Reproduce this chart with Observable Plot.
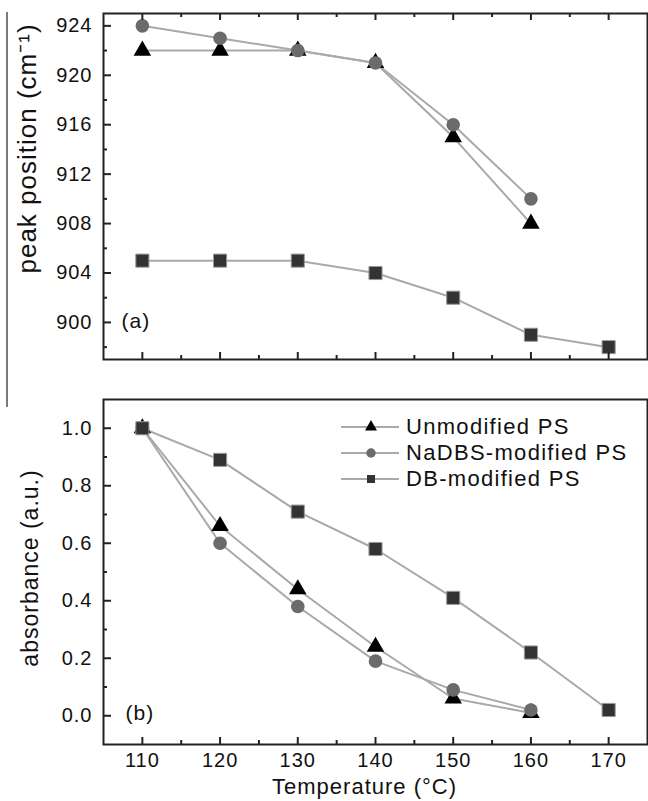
<!DOCTYPE html>
<html>
<head>
<meta charset="utf-8">
<script src="https://cdn.jsdelivr.net/npm/d3@7"></script>
<script src="https://cdn.jsdelivr.net/npm/@observablehq/plot@0.6"></script>
<style>
  html, body { margin: 0; padding: 0; background: #fff; }
  #wrap { position: relative; width: 648px; height: 801px; overflow: hidden;
          font-family: "Liberation Sans", Arial, sans-serif; color: #111; }
  #top { position: absolute; left: 0; top: 0; }
  #bot { position: absolute; left: 0; top: 380px; }
  #wrap svg text { letter-spacing: 1px; }
  #vline { position: absolute; left: 6px; top: 12px; width: 2px; height: 395px; background: #7a7a7a; }
  #legend { position: absolute; left: 340px; top: 414px; }
  .lrow { display: flex; align-items: center; height: 26px; }
  .lrow span { font-size: 22px; letter-spacing: 1.3px; margin-left: 6px; line-height: 26px; }
</style>
</head>
<body>
<div id="wrap">
  <div id="vline"></div>
  <div id="top"></div>
  <div id="bot"></div>
  <div id="legend"></div>
</div>
<script>
// ---- data ----
const temps = [110, 120, 130, 140, 150, 160, 170];
const seriesNames = ["Unmodified PS", "NaDBS-modified PS", "DB-modified PS"];

const peakUnmod = [922, 922, 922, 921, 915, 908];
const peakNaDBS = [924, 923, 922, 921, 916, 910];
const peakDB    = [905, 905, 905, 904, 902, 899, 898];

const absUnmod = [1.00, 0.66, 0.44, 0.24, 0.06, 0.01];
const absNaDBS = [1.00, 0.60, 0.38, 0.19, 0.09, 0.02];
const absDB    = [1.00, 0.89, 0.71, 0.58, 0.41, 0.22, 0.02];

const xMajor = [110, 120, 130, 140, 150, 160, 170];
const xMinor = [115, 125, 135, 145, 155, 165];
const peakMajor = [900, 904, 908, 912, 916, 920, 924];
const peakMinor = [898, 902, 906, 910, 914, 918, 922];
const absMajor = [0.0, 0.2, 0.4, 0.6, 0.8, 1.0];
const absMinor = [0.1, 0.3, 0.5, 0.7, 0.9];

// ---- helpers ----
const pts = arr => arr.map((v, i) => ({t: temps[i], v}));
const FONT = '"Liberation Sans", Arial, sans-serif';
const LINE = "#a9a9a9";
const W = 648, ML = 103, MR = 1;
const innerW = W - ML - MR;

const styleSeries = [
  {symbol: "triangle", fill: "#000", stroke: "none", r: 6.5},
  {symbol: "circle", fill: "#6b6b6b", stroke: "none", r: 6.8},
  {symbol: "square", fill: "#333", stroke: "#9a9a9a", r: 7.4}
];

function seriesMarks(arrs) {
  const marks = [];
  arrs.forEach(a => marks.push(Plot.line(pts(a), {x: "t", y: "v", stroke: LINE, strokeWidth: 2})));
  arrs.forEach((a, k) => {
    const s = styleSeries[k];
    marks.push(Plot.dot(pts(a), {x: "t", y: "v", symbol: s.symbol, fill: s.fill, stroke: s.stroke, strokeWidth: 1, r: s.r}));
  });
  return marks;
}

function ticks(innerH, yMaj, yMin, withTop) {
  const st = {stroke: "#222", strokeWidth: 2};
  const m = [
    Plot.tickX(xMajor, {x: d => d, insetTop: innerH - 7, ...st}),
    Plot.tickX(xMinor, {x: d => d, insetTop: innerH - 4, ...st}),
    Plot.tickY(yMaj, {y: d => d, insetRight: innerW - 8, ...st}),
    Plot.tickY(yMin, {y: d => d, insetRight: innerW - 4, ...st})
  ];
  if (withTop) {
    m.push(Plot.tickX(xMajor, {x: d => d, insetBottom: innerH - 7, ...st}));
    m.push(Plot.tickX(xMinor, {x: d => d, insetBottom: innerH - 4, ...st}));
  }
  return m;
}

// ---- top panel ----
const topH = 380, topMT = 13, topMB = 21;
const topPlot = Plot.plot({
  width: W, height: topH,
  marginLeft: ML, marginRight: MR, marginTop: topMT, marginBottom: topMB,
  style: {fontFamily: FONT, fontSize: "20px", color: "#111", background: "transparent", overflow: "visible"},
  x: {domain: [105, 175], axis: null},
  y: {domain: [897, 925], axis: null},
  marks: [
    ...seriesMarks([peakUnmod, peakNaDBS, peakDB]),
    ...ticks(topH - topMT - topMB, peakMajor, peakMinor, true),
    Plot.axisY(peakMajor, {anchor: "left", tickSize: 0, tickPadding: 11, label: null, fontSize: 20, tickFormat: d => String(d)}),
    Plot.frame({stroke: "#222", strokeWidth: 2}),
    Plot.text(["(a)"], {frameAnchor: "bottom-left", dx: 18, dy: -32, textAnchor: "start", fontSize: 21}),
    Plot.text(["peak position (cm⁻¹)"], {frameAnchor: "left", dx: -76, dy: -38, rotate: -90, fontSize: 26, textAnchor: "middle"})
  ]
});
document.getElementById("top").appendChild(topPlot);

// ---- bottom panel ----
const botH = 421, botMT = 19, botMB = 57;
const botPlot = Plot.plot({
  width: W, height: botH,
  marginLeft: ML, marginRight: MR, marginTop: botMT, marginBottom: botMB,
  style: {fontFamily: FONT, fontSize: "20px", color: "#111", background: "transparent", overflow: "visible"},
  x: {domain: [105, 175], axis: null},
  y: {domain: [-0.1, 1.1], axis: null},
  marks: [
    ...seriesMarks([absUnmod, absNaDBS, absDB]),
    ...ticks(botH - botMT - botMB, absMajor, absMinor, false),
    Plot.axisY(absMajor, {anchor: "left", tickSize: 0, tickPadding: 11, label: null, fontSize: 20, tickFormat: d => d.toFixed(1)}),
    Plot.axisX(xMajor, {anchor: "bottom", tickSize: 0, tickPadding: 8, label: null, fontSize: 20, tickFormat: d => String(d)}),
    Plot.frame({stroke: "#222", strokeWidth: 2}),
    Plot.text(["(b)"], {frameAnchor: "bottom-left", dx: 22, dy: -25, textAnchor: "start", fontSize: 21}),
    Plot.text(["absorbance (a.u.)"], {frameAnchor: "left", dx: -73, dy: -4, rotate: -90, fontSize: 23, textAnchor: "middle"}),
    Plot.text(["Temperature (°C)"], {frameAnchor: "bottom", dx: -11, dy: 49, fontSize: 22, letterSpacing: 1.5, textAnchor: "middle"})
  ]
});
document.getElementById("bot").appendChild(botPlot);

// ---- legend ----
const legend = d3.select("#legend");
const legSym = [
  {type: d3.symbolTriangle, size: 62, fill: "#000"},
  {type: d3.symbolCircle, size: 70, fill: "#6b6b6b"},
  {type: d3.symbolSquare, size: 64, fill: "#333"}
];
seriesNames.forEach((name, k) => {
  const row = legend.append("div").attr("class", "lrow");
  const svg = row.append("svg").attr("width", 60).attr("height", 26);
  svg.append("line").attr("x1", 1).attr("x2", 59).attr("y1", 13).attr("y2", 13)
     .attr("stroke", LINE).attr("stroke-width", 2);
  svg.append("path").attr("transform", "translate(31,13)")
     .attr("d", d3.symbol().type(legSym[k].type).size(legSym[k].size)())
     .attr("fill", legSym[k].fill);
  row.append("span").text(name);
});
</script>
</body>
</html>
